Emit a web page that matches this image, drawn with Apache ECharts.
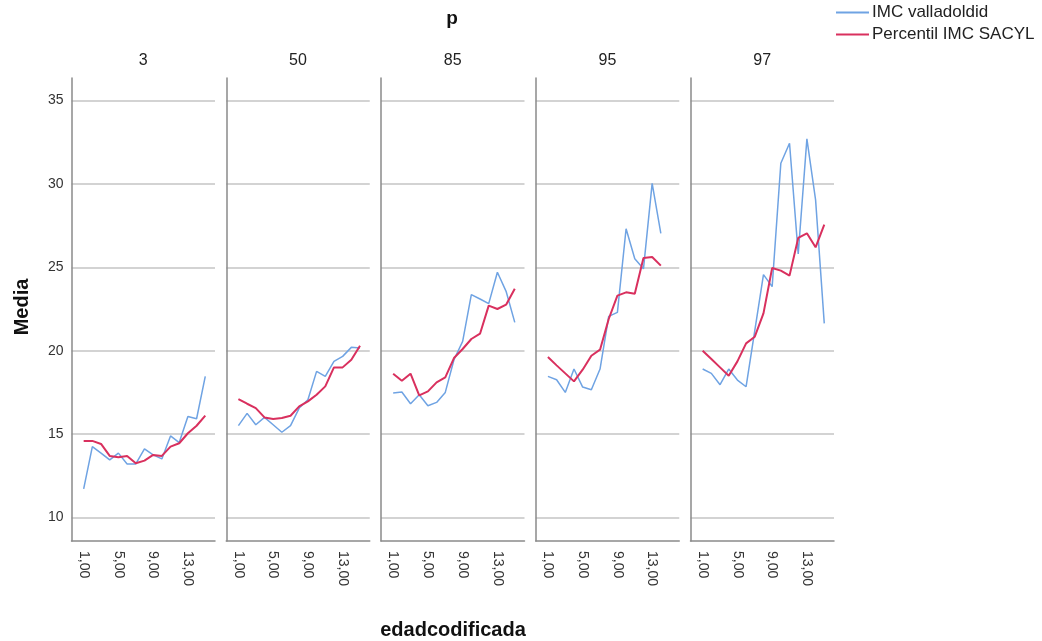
<!DOCTYPE html>
<html>
<head>
<meta charset="utf-8">
<script src="https://cdn.jsdelivr.net/npm/echarts@6/dist/echarts.min.js"></script>
<style>html,body{margin:0;padding:0;background:#fff;}#c{width:1042px;height:641px;}</style>
</head>
<body>
<div id="c"></div>
<script>
const panels = ['3', '50', '85', '95', '97'];
const ages = [1, 2, 3, 4, 5, 6, 7, 8, 9, 10, 11, 12, 13, 14, 15];
const xTickValues = [1, 5, 9, 13];
const yTickValues = [10, 15, 20, 25, 30, 35];
const seriesNames = ['IMC valladoldid', 'Percentil IMC SACYL'];

const p3Valladolid = [11.71, 14.25, 13.86, 13.45, 13.86, 13.21, 13.21, 14.11, 13.75, 13.51, 14.89, 14.49, 16.06, 15.92, 18.46];
const p3Sacyl = [14.59, 14.59, 14.41, 13.69, 13.61, 13.69, 13.25, 13.41, 13.75, 13.69, 14.25, 14.45, 15.05, 15.5, 16.11];
const p50Valladolid = [15.51, 16.24, 15.56, 16.0, 15.56, 15.11, 15.51, 16.56, 17.06, 18.76, 18.46, 19.36, 19.66, 20.2, 20.16];
const p50Sacyl = [17.1, 16.82, 16.56, 16.0, 15.9, 15.96, 16.1, 16.66, 16.96, 17.36, 17.86, 19.0, 19.0, 19.46, 20.3];
const p85Valladolid = [17.46, 17.52, 16.82, 17.36, 16.7, 16.9, 17.5, 19.46, 20.56, 23.36, 23.1, 22.82, 24.7, 23.56, 21.7];
const p85Sacyl = [18.62, 18.2, 18.62, 17.32, 17.56, 18.1, 18.4, 19.56, 20.1, 20.7, 21.02, 22.7, 22.5, 22.76, 23.72];
const p95Valladolid = [18.46, 18.26, 17.5, 18.9, 17.82, 17.66, 18.9, 22.06, 22.3, 27.31, 25.51, 24.91, 30.03, 27.03];
const p95Sacyl = [19.62, 19.12, 18.64, 18.16, 18.86, 19.7, 20.06, 21.9, 23.3, 23.5, 23.42, 25.56, 25.62, 25.1];
const p97Valladolid = [18.9, 18.64, 17.96, 18.9, 18.24, 17.84, 21.2, 24.56, 23.84, 31.24, 32.44, 25.8, 32.7, 29.04, 21.64];
const p97Sacyl = [20.0, 19.5, 19.0, 18.5, 19.36, 20.44, 20.84, 22.24, 24.96, 24.8, 24.5, 26.76, 27.04, 26.2, 27.56];

const valladolidByPanel = [p3Valladolid, p50Valladolid, p85Valladolid, p95Valladolid, p97Valladolid];
const sacylByPanel = [p3Sacyl, p50Sacyl, p85Sacyl, p95Sacyl, p97Sacyl];

const FONT = '"Liberation Sans", Arial, sans-serif';
const BLUE = '#6fa3e3';
const RED = '#d9305e';
const gridLeft0 = 71.5, gridStep = 154.75, gridW = 143.5, gridTop = 78, gridH = 463;

const pair = vals => vals.map((v, i) => [ages[i], v]);

const grids = [], xAxes = [], yAxes = [], series = [], graphics = [];
panels.forEach((p, i) => {
  const left = gridLeft0 + i * gridStep;
  grids.push({ left: left, top: gridTop, width: gridW, height: gridH, containLabel: false });
  xAxes.push({
    type: 'value', gridIndex: i, min: -0.4, max: 16.12,
    axisLine: { show: true, onZero: false, lineStyle: { color: '#8a8a8a', width: 1.5 } },
    axisTick: { show: false, customValues: xTickValues },
    splitLine: { show: false },
    axisLabel: {
      customValues: xTickValues, rotate: -90, margin: 10,
      color: '#333', fontFamily: FONT, fontSize: 14,
      formatter: v => v.toFixed(2).replace('.', ',')
    }
  });
  yAxes.push({
    type: 'value', gridIndex: i, min: 8.59, max: 36.35,
    axisLine: { show: true, onZero: false, lineStyle: { color: '#8a8a8a', width: 1.5 } },
    axisTick: { show: false, customValues: yTickValues },
    splitLine: { show: true, lineStyle: { color: '#c4c4c4', width: 1.5 } },
    axisLabel: {
      show: i === 0, customValues: yTickValues, margin: 8,
      color: '#333', fontFamily: FONT, fontSize: 14
    }
  });
  series.push({
    name: seriesNames[0], type: 'line', xAxisIndex: i, yAxisIndex: i,
    data: pair(valladolidByPanel[i]), symbol: 'none', showSymbol: false,
    lineStyle: { color: BLUE, width: 1.5 }, itemStyle: { color: BLUE },
    animation: false, z: 3
  });
  series.push({
    name: seriesNames[1], type: 'line', xAxisIndex: i, yAxisIndex: i,
    data: pair(sacylByPanel[i]), symbol: 'none', showSymbol: false,
    lineStyle: { color: RED, width: 2 }, itemStyle: { color: RED },
    animation: false, z: 4
  });
  graphics.push({
    type: 'text', x: left + gridW / 2, y: 61,
    style: { text: p, font: '16px ' + FONT, fill: '#222', textAlign: 'center', textVerticalAlign: 'middle' }
  });
});

graphics.push({
  type: 'text', x: 452, y: 19,
  style: { text: 'p', font: 'bold 19px ' + FONT, fill: '#111', textAlign: 'center', textVerticalAlign: 'middle' }
});
graphics.push({
  type: 'text', x: 22, y: 307, rotation: Math.PI / 2,
  style: { text: 'Media', font: 'bold 20px ' + FONT, fill: '#111', textAlign: 'center', textVerticalAlign: 'middle' }
});
graphics.push({
  type: 'text', x: 453, y: 630,
  style: { text: 'edadcodificada', font: 'bold 20px ' + FONT, fill: '#111', textAlign: 'center', textVerticalAlign: 'middle' }
});

const chart = echarts.init(document.getElementById('c'), null, { renderer: 'canvas' });
chart.setOption({
  animation: false,
  backgroundColor: '#fff',
  grid: grids,
  xAxis: xAxes,
  yAxis: yAxes,
  series: series,
  legend: {
    data: seriesNames.map(n => ({ name: n, icon: 'rect' })),
    orient: 'vertical', left: 836, top: 4, padding: 0,
    itemWidth: 33, itemHeight: 2, itemGap: 5,
    textStyle: { fontFamily: FONT, fontSize: 17, lineHeight: 17, color: '#222', padding: [0, 0, 0, -2] }
  },
  graphic: graphics
});
</script>
</body>
</html>
